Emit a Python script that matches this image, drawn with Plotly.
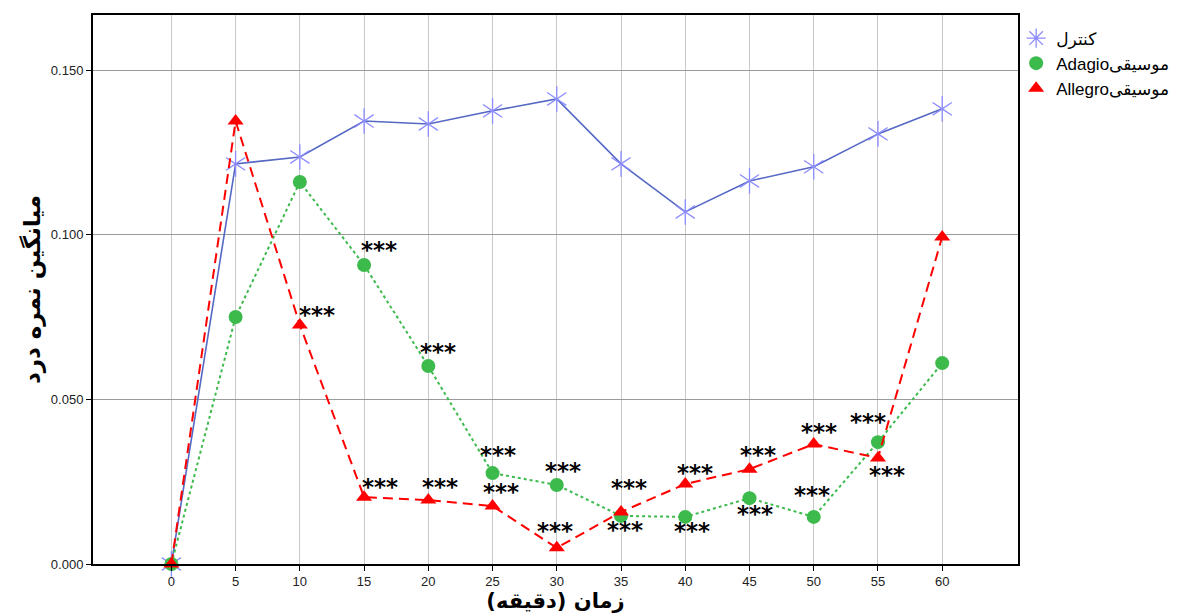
import plotly.graph_objects as go

# ---- data ----
minutes = [0, 5, 10, 15, 20, 25, 30, 35, 40, 45, 50, 55, 60]
control = [0.000, 0.1215, 0.1236, 0.1345, 0.1336, 0.1376, 0.1412, 0.1215, 0.1069, 0.1163, 0.1206, 0.1306, 0.1382]
adagio = [0.000, 0.0750, 0.1160, 0.0908, 0.0601, 0.0276, 0.0240, 0.0146, 0.0143, 0.0200, 0.0143, 0.0370, 0.0610]
allegro = [0.000, 0.1345, 0.0726, 0.0203, 0.0194, 0.0176, 0.0049, 0.0158, 0.0243, 0.0288, 0.0364, 0.0322, 0.0993]

x_tick_labels = [str(m) for m in minutes]
y_tick_vals = [0.0, 0.05, 0.10, 0.15]
y_tick_labels = ["0.000", "0.050", "0.100", "0.150"]

name_control = "کنترل"
name_adagio = "Adagioموسیقی"
name_allegro = "Allegroموسیقی"
x_title = "زمان (دقیقه)"
y_title = "میانگین نمره درد"

# significance marks: (series, minute)
sig_marks = [
    ("adagio", 15), ("allegro", 10), ("adagio", 20), ("allegro", 15), ("allegro", 20),
    ("adagio", 25), ("allegro", 25), ("adagio", 30), ("allegro", 30), ("allegro", 35),
    ("adagio", 35), ("allegro", 40), ("adagio", 40), ("allegro", 45), ("adagio", 45),
    ("allegro", 50), ("adagio", 50), ("adagio", 55), ("allegro", 55),
]
# label placement offsets in pixels (dx, dy) relative to the point, same order
sig_offsets = [
    (15, 15), (17, 10), (10, 14), (16, 10), (12, 13),
    (5, 18), (8, 14), (6, 14), (-2, 17), (8, 24),
    (4, -14), (10, 11), (7, -14), (9, 14), (6, -16),
    (5, 12), (-2, 22), (-10, 20), (9, -17),
]

series = {"control": control, "adagio": adagio, "allegro": allegro}

C_LINE = "#5468c4"
C_STAR = "#8c8cff"
C_GREEN = "#3cba4c"
C_RED = "#ff0000"

fig = go.Figure()

# control: line + 6-ray star built from two Y symbols
fig.add_trace(go.Scatter(
    x=minutes, y=control, mode="lines+markers", showlegend=False,
    line=dict(color=C_LINE, width=1.6),
    marker=dict(symbol="y-up-open", size=16, color=C_STAR, line=dict(color=C_STAR, width=1.3)),
    cliponaxis=False,
))
fig.add_trace(go.Scatter(
    x=minutes, y=control, mode="markers", showlegend=False,
    marker=dict(symbol="y-down-open", size=16, color=C_STAR, line=dict(color=C_STAR, width=1.3)),
    cliponaxis=False,
))
# adagio
fig.add_trace(go.Scatter(
    x=minutes, y=adagio, mode="lines+markers", showlegend=False,
    line=dict(color=C_GREEN, width=2, dash="3px,3px"),
    marker=dict(symbol="circle", size=14, color=C_GREEN),
    cliponaxis=False,
))
# allegro
fig.add_trace(go.Scatter(
    x=minutes, y=allegro, mode="lines+markers", showlegend=False,
    line=dict(color=C_RED, width=2, dash="10px,6px"),
    marker=dict(symbol="triangle-up", size=14, color=C_RED),
    cliponaxis=False,
))

# legend entries (markers only, like the reference)
fig.add_trace(go.Scatter(x=[None], y=[None], mode="markers", name=name_control,
                         marker=dict(symbol="asterisk-open", size=18, color=C_STAR,
                                     line=dict(color=C_STAR, width=1.3))))
fig.add_trace(go.Scatter(x=[None], y=[None], mode="markers", name=name_adagio,
                         marker=dict(symbol="circle", size=14, color=C_GREEN)))
fig.add_trace(go.Scatter(x=[None], y=[None], mode="markers", name=name_allegro,
                         marker=dict(symbol="triangle-up", size=14, color=C_RED)))

# significance annotations
STAR_V_ADJ = 0
for (s, m), (dx, dy) in zip(sig_marks, sig_offsets):
    yv = series[s][minutes.index(m)]
    fig.add_annotation(
        x=m, y=yv, xref="x", yref="y", text="<b>***</b>", showarrow=False,
        xshift=dx, yshift=dy + STAR_V_ADJ, xanchor="center", yanchor="middle",
        font=dict(family="DejaVu Sans", size=23, color="#000000"),
    )

# page body has an 8px margin, so the figure is drawn 8px in from the top-left
fig.update_layout(
    width=1181, height=607,
    margin=dict(l=85, r=171, t=7, b=51, autoexpand=False),
    paper_bgcolor="white", plot_bgcolor="white",
    showlegend=True,
    legend=dict(x=0.998, y=0.99, xanchor="left", yanchor="top",
                font=dict(family="Liberation Sans, DejaVu Sans", size=17, color="#000"),
                bgcolor="rgba(0,0,0,0)", itemwidth=30, tracegroupgap=0),
    font=dict(family="Liberation Sans, Arial", color="#000"),
)

fig.update_xaxes(
    range=[-6.1, 65.9], tickmode="array", tickvals=minutes, ticktext=x_tick_labels,
    ticks="outside", ticklen=5, tickcolor="#000", tickfont=dict(size=13, color="#222"),
    showgrid=True, gridcolor="#c8c8c8", gridwidth=1, zeroline=False, automargin=False,
    showline=True, linecolor="#000", linewidth=1.5, mirror=True,
    title=dict(text="<b>" + x_title + "</b>", font=dict(family="DejaVu Sans", size=21, color="#000"), standoff=4),
)
fig.update_yaxes(
    range=[0, 0.1667], tickmode="array", tickvals=y_tick_vals, ticktext=y_tick_labels,
    ticks="outside", ticklen=5, tickcolor="#000", tickfont=dict(size=13, color="#222"),
    showgrid=True, gridcolor="#9a9a9a", gridwidth=1, zeroline=False, automargin=False,
    showline=True, linecolor="#000", linewidth=2, mirror=True,
    title=dict(text="<b>" + y_title + "</b>", font=dict(family="DejaVu Sans", size=23, color="#000"), standoff=4),
)

fig.write_html("out.html")
